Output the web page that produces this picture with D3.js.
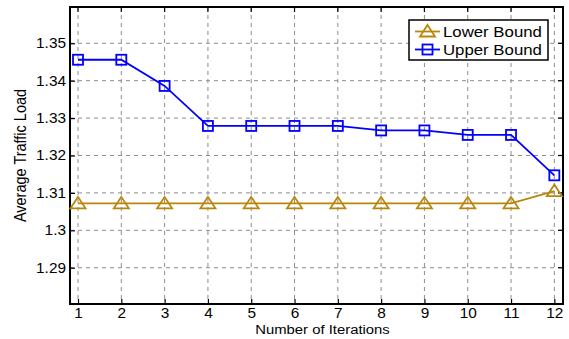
<!DOCTYPE html>
<html>
<head>
<meta charset="utf-8">
<script src="https://cdn.jsdelivr.net/npm/d3@7"></script>
<style>
  html, body { margin: 0; padding: 0; background: #fff; }
  svg { display: block; font-family: "Liberation Sans", Arial, sans-serif; }
</style>
</head>
<body>
<svg id="chart" width="569" height="339"></svg>
<script>
const iterations = [1, 2, 3, 4, 5, 6, 7, 8, 9, 10, 11, 12];
const lowerBound = [1.3072, 1.3072, 1.3072, 1.3072, 1.3072, 1.3072, 1.3072, 1.3072, 1.3072, 1.3072, 1.3072, 1.3105];
const upperBound = [1.3456, 1.3456, 1.3386, 1.3279, 1.3279, 1.3279, 1.3279, 1.3267, 1.3267, 1.3255, 1.3255, 1.3147];
const yTicks = [1.29, 1.3, 1.31, 1.32, 1.33, 1.34, 1.35];
const yTickLabels = ["1.29", "1.3", "1.31", "1.32", "1.33", "1.34", "1.35"];
const seriesNames = ["Lower Bound", "Upper Bound"];
const seriesColors = ["#b8860b", "#0000ff"];

const svg = d3.select("#chart");
const plot = { left: 70, right: 563, top: 7, bottom: 304 };
const sx = 1.1; // slightly widened lettering

const x = d3.scaleLinear().domain([0.815, 12.2]).range([plot.left, plot.right]);
const y = d3.scaleLinear().domain([1.2803, 1.3597]).range([plot.bottom, plot.top]);

// dashed grid
const grid = svg.append("g").attr("stroke", "#8c8c8c").attr("stroke-width", 1).attr("stroke-dasharray", "4,4");
grid.selectAll("line.vx").data(iterations).join("line")
  .attr("x1", d => x(d)).attr("x2", d => x(d))
  .attr("y1", plot.top).attr("y2", plot.bottom);
grid.selectAll("line.hy").data(yTicks).join("line")
  .attr("x1", plot.left).attr("x2", plot.right)
  .attr("y1", d => y(d)).attr("y2", d => y(d));

// axes with inward ticks
const xAxis = d3.axisBottom(x).tickValues(iterations).tickSize(-5).tickPadding(4).tickFormat(d3.format("d"));
const yAxis = d3.axisLeft(y).tickValues(yTicks).tickSize(-5).tickPadding(4)
  .tickFormat((d, i) => yTickLabels[i]);

const gx = svg.append("g").attr("transform", `translate(0,${plot.bottom})`).call(xAxis);
const gy = svg.append("g").attr("transform", `translate(${plot.left},0)`).call(yAxis);
[gx, gy].forEach(g => {
  g.select(".domain").remove();
  g.selectAll(".tick line").attr("stroke", "#000").attr("stroke-width", 1.2);
  g.selectAll(".tick text").attr("fill", "#000").attr("font-size", 14)
    .attr("transform", `scale(${sx},1)`);
});
gx.selectAll(".tick text").attr("dy", "0.71em");
gy.selectAll(".tick text").attr("x", -4 / sx);

// mirrored ticks on top and right
svg.append("g").selectAll("line").data(iterations).join("line")
  .attr("x1", d => x(d)).attr("x2", d => x(d))
  .attr("y1", plot.top).attr("y2", plot.top + 5).attr("stroke", "#000").attr("stroke-width", 1.2);
svg.append("g").selectAll("line").data(yTicks).join("line")
  .attr("x1", plot.right).attr("x2", plot.right - 5)
  .attr("y1", d => y(d)).attr("y2", d => y(d)).attr("stroke", "#000").attr("stroke-width", 1.2);

// frame
svg.append("rect")
  .attr("x", plot.left).attr("y", plot.top)
  .attr("width", plot.right - plot.left).attr("height", plot.bottom - plot.top)
  .attr("fill", "none").attr("stroke", "#000").attr("stroke-width", 2);

// series
const series = [lowerBound, upperBound];
const line = d3.line().x((d, i) => x(iterations[i])).y(d => y(d));

function triangle(g, cx, cy, color) {
  g.append("path")
    .attr("d", `M${cx},${cy - 6.5}L${cx + 7.5},${cy + 5}L${cx - 7.5},${cy + 5}Z`)
    .attr("fill", "none").attr("stroke", color).attr("stroke-width", 1.8);
}
function square(g, cx, cy, color) {
  g.append("rect")
    .attr("x", cx - 5).attr("y", cy - 5).attr("width", 10).attr("height", 10)
    .attr("fill", "none").attr("stroke", color).attr("stroke-width", 1.8);
}
const markers = [triangle, square];

series.forEach((vals, s) => {
  const g = svg.append("g");
  g.append("path").datum(vals).attr("d", line)
    .attr("fill", "none").attr("stroke", seriesColors[s]).attr("stroke-width", 1.8);
  vals.forEach((v, i) => markers[s](g, x(iterations[i]), y(v), seriesColors[s]));
});

// axis titles
svg.append("text").attr("transform", `translate(${(plot.left + plot.right) / 2 + 6},334) scale(1.1,1)`)
  .attr("text-anchor", "middle").attr("font-size", 13.5).attr("fill", "#000")
  .text("Number of Iterations");
svg.append("text").attr("transform", `translate(26,${(plot.top + plot.bottom) / 2}) rotate(-90) scale(1,1.08)`)
  .attr("text-anchor", "middle").attr("font-size", 14.5).attr("fill", "#000")
  .text("Average Traffic Load");

// legend
const lg = svg.append("g");
lg.append("rect").attr("x", 409).attr("y", 20).attr("width", 139).attr("height", 40)
  .attr("fill", "#fff").attr("stroke", "#000").attr("stroke-width", 1.5);
seriesNames.forEach((name, s) => {
  const ly = 31.5 + s * 18;
  lg.append("line").attr("x1", 415).attr("x2", 440).attr("y1", ly).attr("y2", ly)
    .attr("stroke", seriesColors[s]).attr("stroke-width", 1.8);
  markers[s](lg, 427.5, ly, seriesColors[s]);
  lg.append("text").attr("transform", `translate(443,${ly}) scale(1.12,1)`).attr("dy", "0.36em")
    .attr("font-size", 15).attr("fill", "#000").text(name);
});
</script>
</body>
</html>
